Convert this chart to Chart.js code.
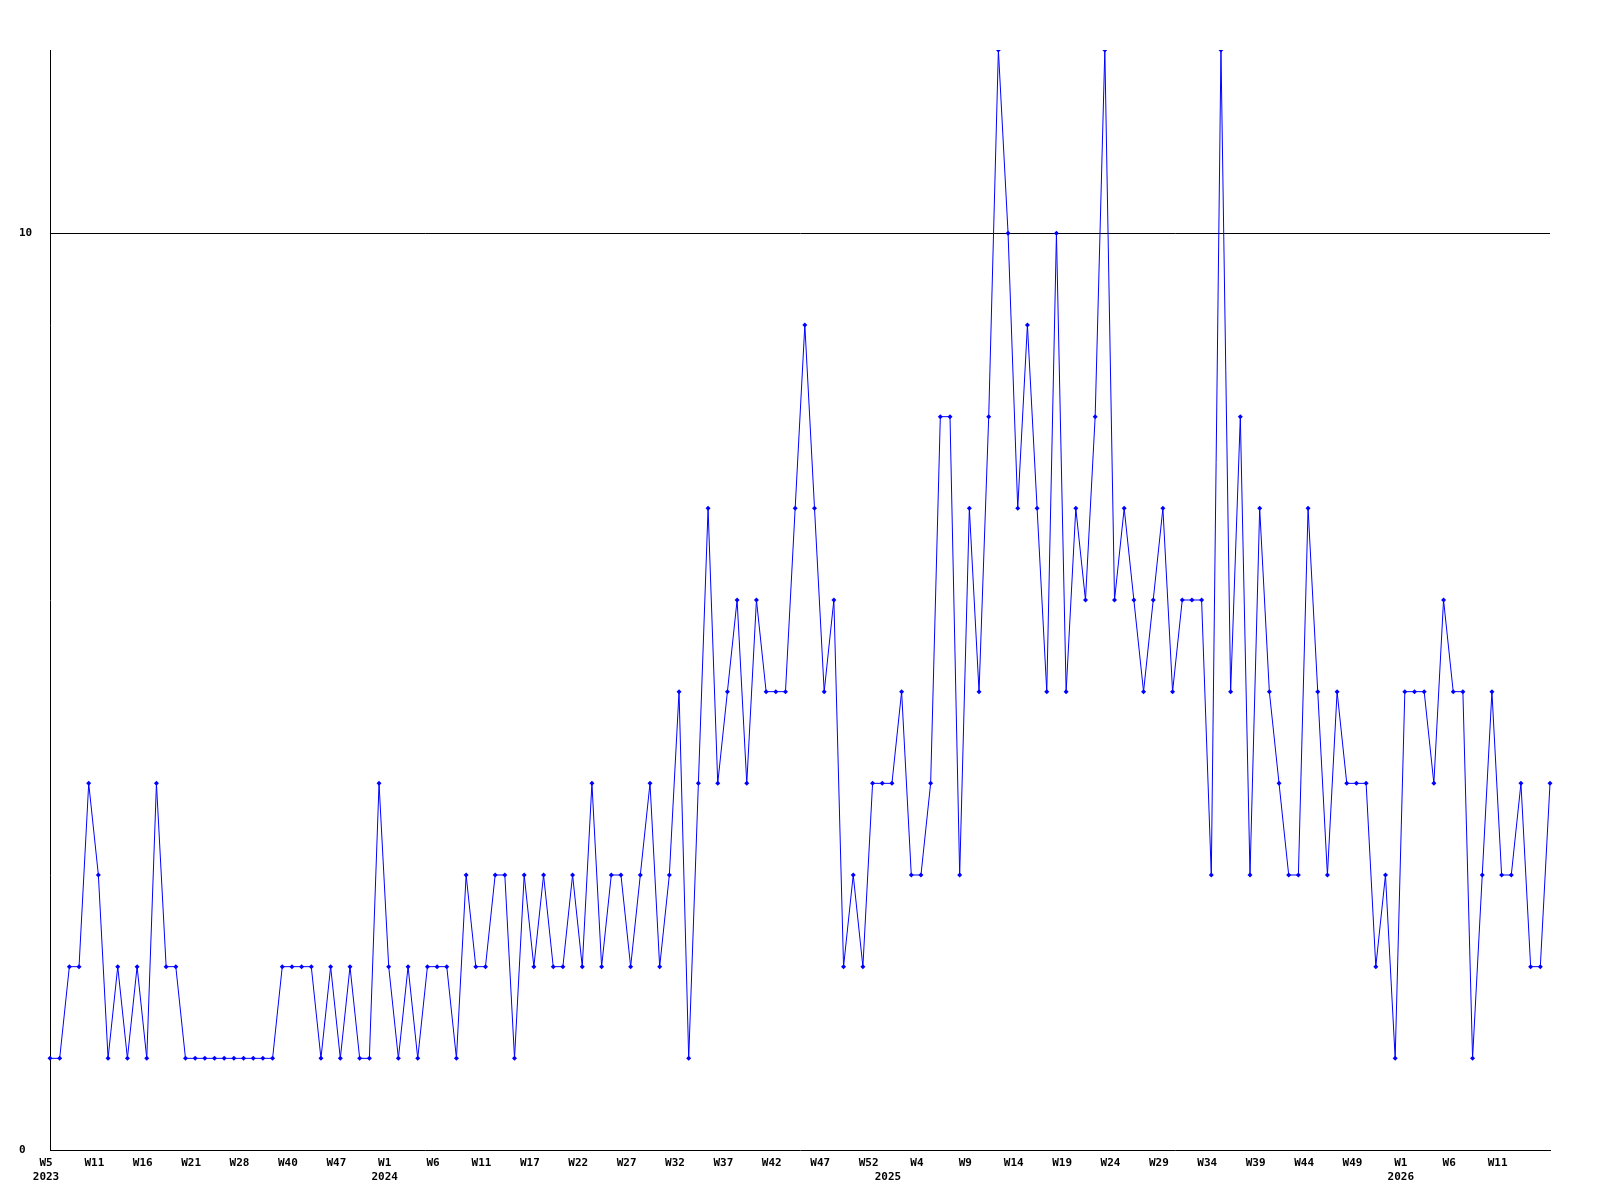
<!DOCTYPE html>
<html>
<head>
<meta charset="utf-8">
<style>
  html, body { margin: 0; padding: 0; background: #ffffff; }
  #wrap { width: 1600px; height: 1200px; position: relative; }
</style>
<script src="https://cdn.jsdelivr.net/npm/chart.js@4.4.1/dist/chart.umd.min.js"></script>
</head>
<body>
<div id="wrap"><canvas id="c" width="1600" height="1200"></canvas></div>
<script>
// ---- week categories, per year ----
const weeks2023 = ['W5','W6','W7','W8','W9','W11','W12','W13','W14','W15','W16','W17','W18','W19','W20','W21','W22','W24','W25','W27','W28','W30','W32','W35','W38','W40','W41','W42','W44','W45','W47','W48','W49','W50','W51'];
const weeks2024 = ['W1','W2','W3','W4','W5','W6','W7','W8','W9','W10','W11','W12','W13','W14','W16','W17','W18','W19','W20','W21','W22','W23','W24','W25','W26','W27','W28','W29','W30','W31','W32','W33','W34','W35','W36','W37','W38','W39','W40','W41','W42','W43','W44','W45','W46','W47','W48','W49','W50','W51','W52','W53'];
const weeks2025 = ['W1','W2','W3','W4','W5','W6','W7','W8','W9','W10','W11','W12','W13','W14','W15','W16','W17','W18','W19','W20','W21','W22','W23','W24','W25','W26','W27','W28','W29','W30','W31','W32','W33','W34','W35','W36','W37','W38','W39','W40','W41','W42','W43','W44','W45','W46','W47','W48','W49','W50','W51','W52','W53'];
const weeks2026 = ['W1','W2','W3','W4','W5','W6','W7','W8','W9','W10','W11','W12','W13','W14','W15','W16'];
const years = ['2023','2024','2025','2026'];

// ---- series values ----
const values = [
  1,1,2,2,4,3,1,2,1,2,
  1,4,2,2,1,1,1,1,1,1,
  1,1,1,1,2,2,2,2,1,2,
  1,2,1,1,4,2,1,2,1,2,
  2,2,1,3,2,2,3,3,1,3,
  2,3,2,2,3,2,4,2,3,3,
  2,3,4,2,3,5,1,4,7,4,
  5,6,4,6,5,5,5,7,9,7,
  5,6,2,3,2,4,4,4,5,3,
  3,4,8,8,3,7,5,8,12,10,
  7,9,7,5,10,5,7,6,8,12,
  6,7,6,5,6,7,5,6,6,6,
  3,12,5,8,3,7,5,4,3,3,
  7,5,3,5,4,4,4,2,3,1,
  5,5,5,4,6,5,5,1,3,5,
  3,3,4,2,2,4
];

// ---- y tick labels ----
const yTicks = [0, 10];
const yMax = 12;
const labelEvery = 5;

// build categories and year markers
const yearGroups = [weeks2023, weeks2024, weeks2025, weeks2026];
const categories = [];
const yearAt = {};
yearGroups.forEach((g, gi) => {
  yearAt[categories.length] = years[gi];
  g.forEach(w => categories.push(w));
});

const FONT = { family: '"DejaVu Sans Mono", "Liberation Mono", monospace', size: 11, weight: 'bold', lineHeight: '14px' };

new Chart(document.getElementById('c'), {
  type: 'line',
  data: {
    labels: categories,
    datasets: [{
      data: values,
      borderColor: '#0000ff',
      backgroundColor: '#0000ff',
      borderWidth: 1,
      tension: 0,
      fill: false,
      pointStyle: 'rectRot',
      pointRadius: 2.5,
      pointBorderWidth: 0,
      pointBackgroundColor: '#0000ff'
    }]
  },
  options: {
    responsive: false,
    animation: false,
    layout: { padding: { left: 19, right: 50, top: 50, bottom: 0 } },
    plugins: { legend: { display: false }, tooltip: { enabled: false }, title: { display: false } },
    scales: {
      x: {
        type: 'category',
        offset: false,
        grid: { display: false, drawTicks: false },
        border: { display: true, color: '#000000', width: 1 },
        ticks: {
          autoSkip: false,
          maxRotation: 0,
          minRotation: 0,
          padding: 6,
          labelOffset: -4,
          color: '#000000',
          font: FONT,
          callback: function(value, index) {
            const isLast = index === categories.length - 1;
            const w = (index % labelEvery === 0 && !isLast) ? categories[index] : '';
            const y = yearAt[index] || '';
            if (!w && !y) return '';
            return y ? [w, y] : w;
          }
        },
        afterFit: function(scale) { scale.height = 50; }
      },
      y: {
        min: 0,
        max: yMax,
        grid: {
          drawTicks: false,
          color: function(ctx) { return (ctx.tick && ctx.tick.value === 10) ? '#000000' : 'rgba(0,0,0,0)'; },
          lineWidth: 1
        },
        border: { display: true, color: '#000000', width: 1 },
        afterBuildTicks: function(scale) { scale.ticks = yTicks.map(v => ({ value: v })); },
        afterFit: function(scale) { scale.width = 31; },
        ticks: {
          crossAlign: 'far',
          padding: 0,
          color: '#000000',
          font: FONT
        }
      }
    }
  }
});
</script>
</body>
</html>
